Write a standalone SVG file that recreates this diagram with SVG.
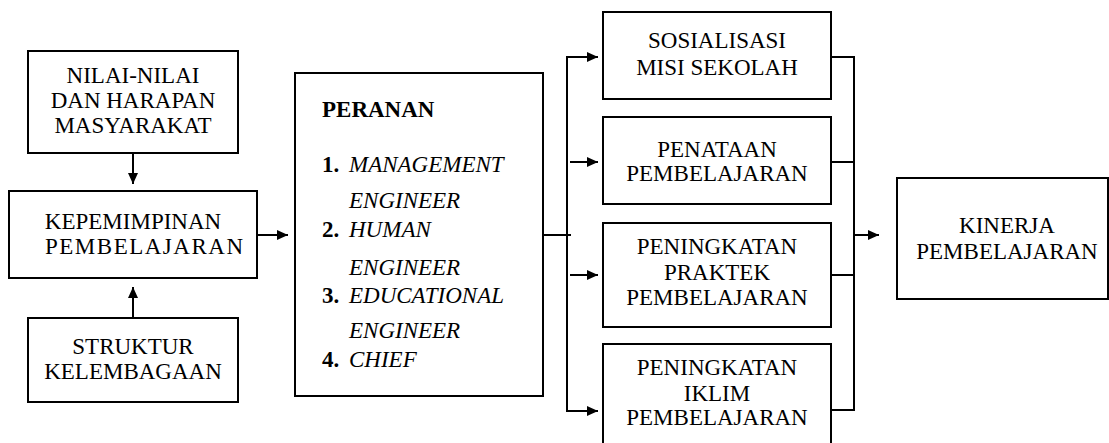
<svg xmlns="http://www.w3.org/2000/svg" width="1109" height="443" viewBox="0 0 1109 443">
<defs>
<style>
.box{fill:#fff;stroke:#000;stroke-width:2}
.t{font-family:"Liberation Serif","Times New Roman",serif;font-size:23px;fill:#000;text-anchor:middle}
.l{font-family:"Liberation Serif","Times New Roman",serif;font-size:23px;fill:#000}
.b{font-weight:bold}
.i{font-style:italic}
.c{fill:none;stroke:#000;stroke-width:2}
</style>
<marker id="ah" markerUnits="userSpaceOnUse" markerWidth="12" markerHeight="12" viewBox="0 0 12 12" refX="11" refY="6" orient="auto">
<path d="M0,1 L11,6 L0,11 Z" fill="#000"/>
</marker>
</defs>
<rect width="1109" height="443" fill="#fff"/>
<g id="connectors">
<line class="c" x1="133" y1="153" x2="133" y2="184" marker-end="url(#ah)"/>
<line class="c" x1="133" y1="318" x2="133" y2="287" marker-end="url(#ah)"/>
<line class="c" x1="257" y1="235" x2="288" y2="235" marker-end="url(#ah)"/>
<line class="c" x1="543" y1="235" x2="571" y2="235"/>
<polyline class="c" points="598,57 567,57 567,411 598,411" marker-end="url(#ah)"/>
<line class="c" x1="567" y1="57" x2="598" y2="57" marker-end="url(#ah)"/>
<line class="c" x1="570" y1="162" x2="598" y2="162" marker-end="url(#ah)"/>
<line class="c" x1="570" y1="275" x2="598" y2="275" marker-end="url(#ah)"/>
<polyline class="c" points="831,57 854,57 854,410 831,410"/>
<line class="c" x1="831" y1="162" x2="854" y2="162"/>
<line class="c" x1="831" y1="275" x2="854" y2="275"/>
<line class="c" x1="854" y1="235" x2="879" y2="235" marker-end="url(#ah)"/>
</g>
<g id="nilai">
<rect class="box" x="28" y="51" width="210" height="102"/>
<text class="t" x="133" y="83">NILAI-NILAI</text>
<text class="t" x="133" y="108">DAN HARAPAN</text>
<text class="t" x="133" y="133">MASYARAKAT</text>
</g>
<g id="kepemimpinan">
<rect class="box" x="9" y="191" width="248" height="87"/>
<text class="t" x="133" y="229">KEPEMIMPINAN</text>
<text class="l" x="45" y="254" textLength="198" lengthAdjust="spacing">PEMBELAJARAN</text>
</g>
<g id="struktur">
<rect class="box" x="28" y="318" width="210" height="84"/>
<text class="t" x="133" y="354">STRUKTUR</text>
<text class="t" x="133" y="379">KELEMBAGAAN</text>
</g>
<g id="peranan">
<rect class="box" x="295" y="73" width="248" height="323"/>
<text class="l b" x="322" y="117">PERANAN</text>
<text class="l b" x="322" y="172">1.</text>
<text class="l i" x="349" y="172">MANAGEMENT</text>
<text class="l i" x="349" y="208">ENGINEER</text>
<text class="l b" x="322" y="237">2.</text>
<text class="l i" x="349" y="237">HUMAN</text>
<text class="l i" x="349" y="275">ENGINEER</text>
<text class="l b" x="322" y="303">3.</text>
<text class="l i" x="349" y="303">EDUCATIONAL</text>
<text class="l i" x="349" y="338">ENGINEER</text>
<text class="l b" x="322" y="367">4.</text>
<text class="l i" x="349" y="367">CHIEF</text>
</g>
<g id="sosialisasi">
<rect class="box" x="603" y="12" width="228" height="87"/>
<text class="t" x="717" y="48">SOSIALISASI</text>
<text class="t" x="717" y="75">MISI SEKOLAH</text>
</g>
<g id="penataan">
<rect class="box" x="603" y="117" width="228" height="87"/>
<text class="t" x="717" y="157">PENATAAN</text>
<text class="t" x="717" y="181">PEMBELAJARAN</text>
</g>
<g id="praktek">
<rect class="box" x="603" y="223" width="228" height="104"/>
<text class="t" x="717" y="254">PENINGKATAN</text>
<text class="t" x="717" y="280">PRAKTEK</text>
<text class="t" x="717" y="305">PEMBELAJARAN</text>
</g>
<g id="iklim">
<rect class="box" x="603" y="344" width="228" height="104"/>
<text class="t" x="717" y="375">PENINGKATAN</text>
<text class="t" x="717" y="401">IKLIM</text>
<text class="t" x="717" y="425">PEMBELAJARAN</text>
</g>
<g id="kinerja">
<rect class="box" x="897" y="178" width="211" height="121"/>
<text class="t" x="1007" y="233">KINERJA</text>
<text class="t" x="1007" y="259">PEMBELAJARAN</text>
</g>
</svg>
